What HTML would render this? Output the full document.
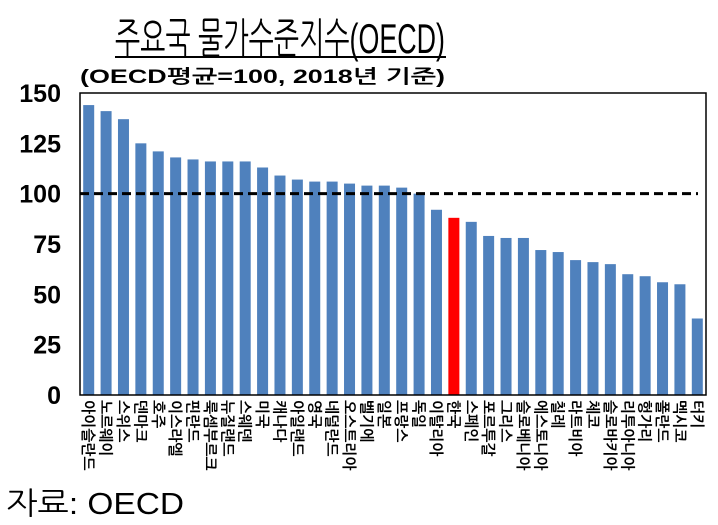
<!DOCTYPE html>
<html><head><meta charset="utf-8">
<style>
html,body{margin:0;padding:0;background:#fff;width:718px;height:525px;overflow:hidden}
svg{display:block}
text{font-family:"Liberation Sans","NanumGothic","Noto Sans CJK KR",sans-serif}
</style></head>
<body>
<svg id="chart" width="718" height="525" xmlns="http://www.w3.org/2000/svg">
<text x="115" y="53" font-size="42" textLength="330" lengthAdjust="spacingAndGlyphs" font-family="NanumGothic,'Noto Sans CJK KR',sans-serif">주요국  물가수준지수(OECD)</text>
<line x1="115" y1="57" x2="446" y2="57" stroke="#000" stroke-width="2"/>
<text x="80" y="83" font-size="19" font-weight="bold" textLength="365" lengthAdjust="spacingAndGlyphs">(OECD평균=100, 2018년 기준)</text>
<g id="yaxis"></g>
<g id="bars"></g>
<g id="xlabels"></g>
<rect x="80" y="93" width="626" height="302" fill="none" stroke="#000" stroke-width="1.5"/>
<line id="refline" stroke="#000" stroke-width="3" stroke-dasharray="9,5"/>
<text x="6" y="514" font-size="31" textLength="178" lengthAdjust="spacingAndGlyphs" font-family="NanumGothic,'Noto Sans CJK KR',sans-serif">자료:  OECD</text>
</svg>
<script>
const categories = ["아이슬란드","노르웨이","스위스","덴마크","호주","이스라엘","핀란드","룩셈부르크","뉴질랜드","스웨덴","미국","캐나다","아일랜드","영국","네덜란드","오스트리아","벨기에","일본","프랑스","독일","이탈리아","한국","스페인","포르투갈","그리스","슬로베니아","에스토니아","칠레","라트비아","체코","슬로바키아","리투아니아","헝가리","폴란드","멕시코","터키"];
const values = [144,141,137,125,121,118,117,116,116,116,113,109,107,106,106,105,104,104,103,100,92,88,86,79,78,78,72,71,67,66,65,60,59,56,55,38];
const yTicks = [0,25,50,75,100,125,150];
const highlight = "한국";
const refValue = 100;

const NS="http://www.w3.org/2000/svg";
const X0=80,X1=706,Y0=395,Y1=93,YMAX=150;
const slot=(X1-X0)/categories.length;
const y=v=>Y0-(v/YMAX)*(Y0-Y1);
const xc=i=>X0+slot*(i+0.5);

const ya=document.getElementById('yaxis');
yTicks.forEach(t=>{
  const tx=document.createElementNS(NS,'text');
  
  
  tx.setAttribute('x',61);tx.setAttribute('y',y(t)+9);
  tx.setAttribute('text-anchor','end');tx.setAttribute('font-size','25');tx.setAttribute('font-weight','bold');
  tx.textContent=t;ya.appendChild(tx);
});
const bg=document.getElementById('bars');
const xl=document.getElementById('xlabels');
categories.forEach((c,i)=>{
  const r=document.createElementNS(NS,'rect');
  
  
  const w=11;
  r.setAttribute('x',xc(i)-w/2);r.setAttribute('width',w);
  r.setAttribute('y',y(values[i]));r.setAttribute('height',Y0-y(values[i]));
  r.setAttribute('fill',c===highlight?'#ff0000':'#4f81bd');
  bg.appendChild(r);
  const tx=document.createElementNS(NS,'text');
  
  
  tx.setAttribute('font-size','15');tx.setAttribute('font-weight','bold');
  tx.setAttribute('transform','translate('+(xc(i)-5.5)+',400) rotate(90)');
  tx.textContent=c;xl.appendChild(tx);
});
const rl=document.getElementById('refline');
rl.setAttribute('x1',X0);rl.setAttribute('x2',X1-8);
rl.setAttribute('y1',y(refValue));rl.setAttribute('y2',y(refValue));
</script>
</body></html>
